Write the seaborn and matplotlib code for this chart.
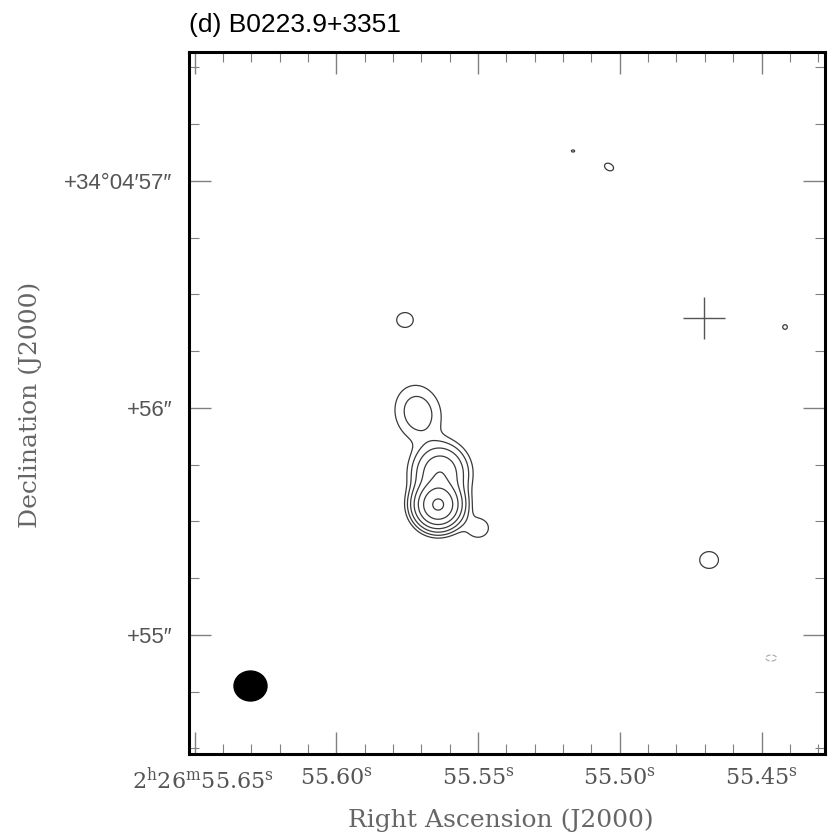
import numpy as np
import matplotlib
matplotlib.use("Agg")
import matplotlib.pyplot as plt
import seaborn as sns
from matplotlib.patches import Ellipse
from matplotlib.ticker import MultipleLocator
from matplotlib.transforms import ScaledTranslation

# ---------------- data ----------------
title = "(d) B0223.9+3351"
# Gaussian brightness components (RA seconds of 2h26m, Dec arcsec of +34d04m)
comp_ra = [55.5641, 55.5634, 55.5500, 55.5712, 55.5758, 55.5038, 55.5165, 55.4685, 55.4417, 55.4466]
comp_dec = [55.5724, 55.7134, 55.4711, 55.9777, 56.3874, 57.0614, 57.1319, 55.3301, 56.3565, 54.8984]
comp_peak = [70.0, 15.0, 1.5, 2.95, 1.3, 1.2, 1.03, 1.4, 1.06, -1.15]
comp_s1 = [0.050, 0.066, 0.050, 0.0837, 0.050, 0.035, 0.030, 0.050, 0.030, 0.045]   # arcsec
comp_s2 = [0.050, 0.062, 0.045, 0.0674, 0.045, 0.025, 0.020, 0.045, 0.030, 0.025]   # arcsec
comp_pa = [0, 90, 0, -75, 0, -30, 0, 0, 0, 0]  # deg
pos_levels = [1, 2, 4, 8, 16, 32, 64]
neg_levels = [-1]

cross_ra = [55.47045]
cross_dec = [56.3984]

beam_ra = 55.6303
beam_dec = 54.775
beam_w_s = 0.01164   # RA seconds
beam_h_as = 0.132    # arcsec

ra_ticks = [55.65, 55.60, 55.55, 55.50, 55.45]
ra_tick_labels = [r"$\mathregular{2^{h}26^{m}55.65^{s}}$", r"$\mathregular{55.60^{s}}$",
                  r"$\mathregular{55.55^{s}}$", r"$\mathregular{55.50^{s}}$",
                  r"$\mathregular{55.45^{s}}$"]
dec_ticks = [55, 56, 57]
dec_tick_labels = ["+55\u2033", "+56\u2033", "+34\u00b004\u203257\u2033"]
xlabel = "Right Ascension (J2000)"
ylabel = "Declination (J2000)"

# ---------------- field ----------------
dec0 = 34 + 4 / 60 + 56 / 3600
cosd = np.cos(np.deg2rad(dec0))
ra_grid = np.linspace(55.425, 55.655, 800)
dec_grid = np.linspace(54.47, 57.57, 1000)
RA, DEC = np.meshgrid(ra_grid, dec_grid)
Z = np.zeros_like(RA)
for rc, dc, pk, s1, s2, th in zip(comp_ra, comp_dec, comp_peak, comp_s1, comp_s2, comp_pa):
    u = (rc - RA) * 15 * cosd
    v = DEC - dc
    t = np.deg2rad(th)
    a = u * np.cos(t) + v * np.sin(t)
    b = -u * np.sin(t) + v * np.cos(t)
    Z += pk * np.exp(-0.5 * ((a / s1) ** 2 + (b / s2) ** 2))

# ---------------- plot ----------------
sns.set_style("white")
plt.rcParams["mathtext.fontset"] = "dejavuserif"

fig = plt.figure(figsize=(8.3, 8.35), dpi=100)
ax = fig.add_axes([189 / 830, 81 / 835, 636 / 830, 702 / 835])

ax.contour(RA, DEC, Z, levels=pos_levels, colors="#3a3a3a", linewidths=0.9)
ax.contour(RA, DEC, Z, levels=neg_levels, colors="#b0b0b0", linewidths=0.9,
           linestyles="dashed")

sns.scatterplot(x=cross_ra, y=cross_dec, marker="+", s=900, color="#555555",
                linewidth=1.0, ax=ax, legend=False)

ax.add_patch(Ellipse((beam_ra, beam_dec), beam_w_s, beam_h_as, color="black", zorder=5))

ax.set_xlim(55.652, 55.4276)
ax.set_ylim(54.4755, 57.568)

ax.set_xticks(ra_ticks)
ax.set_xticklabels(ra_tick_labels, family="DejaVu Serif", fontsize=16, color="#555555")
ax.xaxis.set_minor_locator(MultipleLocator(0.01))
ax.set_yticks(dec_ticks)
ax.set_yticklabels(dec_tick_labels, family=["Liberation Sans", "DejaVu Sans"],
                   fontsize=16, color="#555555")
ax.yaxis.set_minor_locator(MultipleLocator(0.25))

ax.tick_params(which="both", direction="in", top=True, right=True, bottom=True,
               left=True, color="#808080")
ax.tick_params(which="major", length=16, width=1.0)
ax.tick_params(which="minor", length=7.5, width=0.8)
ax.tick_params(axis="x", which="major", pad=10)
ax.tick_params(axis="y", which="major", pad=12)

# the first (long) RA label is set off to the left like the original
lbl0 = ax.get_xticklabels()[0]
lbl0.set_horizontalalignment("right")
lbl0.set_transform(lbl0.get_transform() + ScaledTranslation(79 / 100, 0, fig.dpi_scale_trans))

for sp in ax.spines.values():
    sp.set_linewidth(2.2)
    sp.set_color("black")

ax.set_xlabel(xlabel, family="DejaVu Serif", fontsize=18, color="#666666", va="baseline")
ax.xaxis.set_label_coords(0.49, -(827 - 754) / 702)
ax.set_ylabel(ylabel, family="DejaVu Serif", fontsize=18, color="#666666", va="center")
ax.yaxis.set_label_coords(-(189 - 30) / 636, (754 - 405) / 702)

fig.text(189 / 830, 1 - 32 / 835, title, family="Liberation Sans", fontsize=19,
         color="black", ha="left", va="baseline")

fig.savefig("out.png", dpi=100)
